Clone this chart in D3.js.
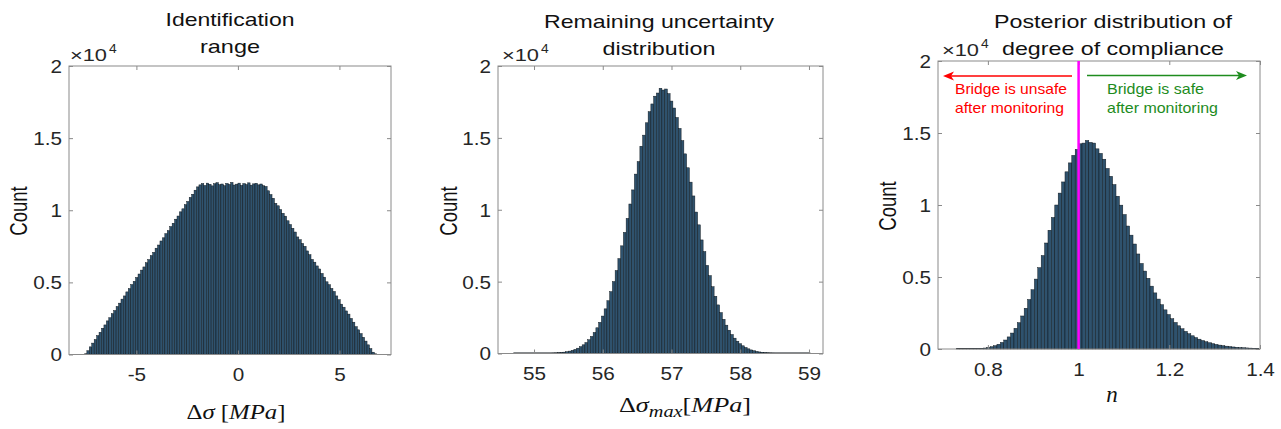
<!DOCTYPE html>
<html><head><meta charset="utf-8">
<script src="https://cdn.jsdelivr.net/npm/d3@7"></script>
<style>body{margin:0;background:#fff;} svg{display:block}</style>
</head><body>
<svg id="c" width="1281" height="429"></svg>
<script>
// ---------------- DATA ----------------
const p1BinStart = -7.56, p1BinWidth = 0.12;
const p1Counts = [30,260,530,790,1040,1310,1540,1820,2050,2330,2550,2830,3050,3330,3560,3840,4060,4340,4570,4850,5070,5340,5580,5850,6070,6360,6580,6860,7080,7370,7590,7870,8090,8380,8590,8870,9100,9380,9600,9890,10100,10390,10610,10890,11110,11390,11620,
11760,11850,11720,11880,11800,11690,11840,11910,11770,11820,11700,11860,11790,11930,11750,11810,11880,11720,11850,11780,11900,11740,11830,11870,11760,11820,11700,
11650,11350,11090,10830,10480,10310,10050,9790,9590,9270,9010,8750,8490,8150,7960,7700,7500,7180,6920,6590,6400,6140,5930,5620,5360,5040,4840,4580,4370,4060,3800,3490,3280,3020,2800,2500,2240,1930,1710,1450,1190,930,670,410,160,20];

const p2BinStart = 54.70, p2BinWidth = 0.04;
const p2Counts = [0,0,0,0,1,1,2,2,3,5,7,10,14,19,27,37,51,69,94,125,166,219,286,370,475,605,763,957,1189,1464,1789,2168,2605,3106,3671,4304,5005,5772,6602,7489,8425,9397,10400,11380,12480,13350,14420,15190,16050,16820,17360,17900,18120,18450,18330,18400,18080,17560,17077,16418,15657,14808,13888,12920,11921,10960,9840,8950,7900,7090,6130,5420,4646,3980,3381,2847,2379,1971,1620,1320,1067,856,681,536,419,325,250,191,144,108,81,59,44,32,23,16,12,8,6,4,3,2,1,1,1,0,0,0];

const p3BinStart = 0.73, p3BinWidth = 0.0075;
const p3Counts = [1,2,3,6,10,17,27,44,68,105,156,228,326,456,624,839,1107,1436,1829,2293,2829,3437,4114,4855,5650,6491,7361,8248,9133,10000,10827,11601,12304,12924,13448,13865,14250,14300,14480,14350,14300,13900,13585,13180,12540,11992,11420,10610,9990,9340,8540,7907,7290,6599,5940,5411,4910,4364,3896,3467,3074,2718,2394,2104,1844,1611,1405,1222,1060,918,793,683,588,505,434,371,318,271,231,197,168,142,121,103,87,74,62,53,44];

const yTicks = [0, 5000, 10000, 15000, 20000];
const yTickLabels = ["0", "0.5", "1", "1.5", "2"];
const p1XTicks = [-5, 0, 5];
const p1XTickLabels = ["-5", "0", "5"];
const p2XTicks = [55, 56, 57, 58, 59];
const p2XTickLabels = ["55", "56", "57", "58", "59"];
const p3XTicks = [0.8, 1, 1.2, 1.4];
const p3XTickLabels = ["0.8", "1", "1.2", "1.4"];
const complianceThreshold = 1;

const titles1 = ["Identification", "range"];
const titles2 = ["Remaining uncertainty", "distribution"];
const titles3 = ["Posterior distribution of", "degree of compliance"];
const unsafeText = ["Bridge is unsafe", "after monitoring"];
const safeText = ["Bridge is safe", "after monitoring"];

// ---------------- STYLE ----------------
const barFill = "#2f526d", barStroke = "#0b1218";
const axisColor = "#8a8a8a", textColor = "#262626";
const sans = "'Liberation Sans', Arial, sans-serif";
const serif = "'Liberation Serif', 'DejaVu Serif', serif";

const svg = d3.select("#c");

const panels = [
  {x0:69, x1:391, y0:66, y1:354.5, xDomain:[-8.32,7.54], start:p1BinStart, w:p1BinWidth, counts:p1Counts,
   xTicks:p1XTicks, xLabels:p1XTickLabels, pad:13.5,
   titles:titles1, tcx:230, ty:[26,53], tlen:[129,60],
   exp:{x:70,y:61}, ylab:{x:27,y:211}},
  {x0:498, x1:823, y0:66, y1:353.5, xDomain:[54.476,59.204], start:p2BinStart, w:p2BinWidth, counts:p2Counts,
   xTicks:p2XTicks, xLabels:p2XTickLabels, pad:13.5,
   titles:titles2, tcx:659, ty:[28,55], tlen:[230,113],
   exp:{x:502,y:61}, ylab:{x:457,y:211}},
  {x0:938, x1:1260, y0:61, y1:349, xDomain:[0.69,1.4], start:p3BinStart, w:p3BinWidth, counts:p3Counts,
   xTicks:p3XTicks, xLabels:p3XTickLabels, pad:14.5,
   titles:titles3, tcx:1113, ty:[28,55], tlen:[238,222],
   exp:{x:942,y:56}, ylab:{x:896,y:206}}
];

const scales = [];
panels.forEach((p, pi) => {
  const x = d3.scaleLinear().domain(p.xDomain).range([p.x0, p.x1]);
  const y = d3.scaleLinear().domain([0, 20000]).range([p.y1, p.y0]);
  scales.push({x, y});
  const g = svg.append("g");
  const bins = p.counts.map((c, i) => ({x0: p.start + i*p.w, x1: p.start + (i+1)*p.w, c}));

  // baseline under zero bins
  g.append("line")
    .attr("x1", x(bins[0].x0)).attr("x2", x(bins[bins.length-1].x1))
    .attr("y1", y(0) - 0.5).attr("y2", y(0) - 0.5)
    .attr("stroke", barStroke).attr("stroke-width", 1);

  g.selectAll("rect.bar").data(bins.filter(b => b.c > 0)).join("rect")
    .attr("class", "bar")
    .attr("x", b => x(b.x0)).attr("width", b => x(b.x1) - x(b.x0))
    .attr("y", b => y(b.c)).attr("height", b => y(0) - y(b.c))
    .attr("fill", barFill).attr("stroke", barStroke).attr("stroke-width", 0.45);

  // axes
  const styleAxis = (sel) => {
    sel.select(".domain").remove();
    sel.selectAll(".tick line").attr("stroke", axisColor);
    sel.selectAll(".tick text").attr("fill", textColor)
      .style("font-family", sans).style("font-size", "18px");
  };
  const bottom = g.append("g").attr("transform", `translate(0,${p.y1})`)
    .call(d3.axisBottom(x).tickValues(p.xTicks).tickFormat((d, i) => p.xLabels[i])
      .tickSizeInner(-4).tickSizeOuter(0).tickPadding(p.pad));
  styleAxis(bottom);
  bottom.selectAll(".tick text").attr("transform", "scale(1.15,1)");
  const top = g.append("g").attr("transform", `translate(0,${p.y0})`)
    .call(d3.axisTop(x).tickValues(p.xTicks).tickFormat("").tickSizeInner(-4).tickSizeOuter(0));
  styleAxis(top);
  const left = g.append("g").attr("transform", `translate(${p.x0},0)`)
    .call(d3.axisLeft(y).tickValues(yTicks).tickFormat((d, i) => yTickLabels[i])
      .tickSizeInner(-4).tickSizeOuter(0).tickPadding(6));
  styleAxis(left);
  left.selectAll(".tick text").attr("dy", "0.36em").attr("transform", "scale(1.15,1)");
  const right = g.append("g").attr("transform", `translate(${p.x1},0)`)
    .call(d3.axisRight(y).tickValues(yTicks).tickFormat("").tickSizeInner(-4).tickSizeOuter(0));
  styleAxis(right);

  g.append("rect").attr("x", p.x0).attr("y", p.y0)
    .attr("width", p.x1 - p.x0).attr("height", p.y1 - p.y0)
    .attr("fill", "none").attr("stroke", axisColor).attr("stroke-width", 1);

  // x10^4 exponent
  g.append("text").attr("x", p.exp.x).attr("y", p.exp.y)
    .attr("textLength", 37).attr("lengthAdjust", "spacingAndGlyphs")
    .style("font-family", sans).style("font-size", "17px").attr("fill", textColor)
    .text("\u00d710");
  g.append("text").attr("x", p.exp.x + 39).attr("y", p.exp.y - 8)
    .style("font-family", sans).style("font-size", "12px").attr("fill", textColor)
    .attr("transform", `translate(${p.exp.x + 39},0) scale(1.15,1) translate(${-(p.exp.x + 39)},0)`)
    .text("4");

  // titles
  p.titles.forEach((t, i) => {
    g.append("text").attr("x", p.tcx).attr("y", p.ty[i]).attr("text-anchor", "middle")
      .attr("textLength", p.tlen[i]).attr("lengthAdjust", "spacingAndGlyphs")
      .style("font-family", sans).style("font-size", "18.5px").attr("fill", "#111")
      .text(t);
  });

  // y label
  g.append("text").attr("transform", `translate(${p.ylab.x},${p.ylab.y}) rotate(-90) scale(1,1.25)`)
    .attr("text-anchor", "middle")
    .style("font-family", sans).style("font-size", "18.5px").attr("fill", "#111")
    .text("Count");
});

// x labels (math)
{
  const t1 = svg.append("text").attr("x", 236).attr("y", 419).attr("text-anchor", "middle")
    .attr("textLength", 99).attr("lengthAdjust", "spacingAndGlyphs")
    .style("font-family", serif).style("font-size", "22px").attr("fill", "#111");
  t1.append("tspan").text("\u0394");
  t1.append("tspan").style("font-style", "italic").text("\u03c3");
  t1.append("tspan").text(" [");
  t1.append("tspan").style("font-style", "italic").text("MPa");
  t1.append("tspan").text("]");

  const t2 = svg.append("text").attr("x", 685).attr("y", 412).attr("text-anchor", "middle")
    .attr("textLength", 132).attr("lengthAdjust", "spacingAndGlyphs")
    .style("font-family", serif).style("font-size", "22px").attr("fill", "#111");
  t2.append("tspan").text("\u0394");
  t2.append("tspan").style("font-style", "italic").text("\u03c3");
  t2.append("tspan").style("font-style", "italic").style("font-size", "17px").attr("dy", 5).text("max");
  t2.append("tspan").attr("dy", -5).text("[");
  t2.append("tspan").style("font-style", "italic").text("MPa");
  t2.append("tspan").text("]");

  svg.append("text").attr("x", 1112).attr("y", 402).attr("text-anchor", "middle")
    .style("font-family", serif).style("font-size", "23px").style("font-style", "italic")
    .attr("fill", "#111").text("n");
}

// panel 3 annotations
{
  const {x, y} = scales[2];
  const p = panels[2];
  svg.append("line").attr("x1", x(complianceThreshold)).attr("x2", x(complianceThreshold))
    .attr("y1", p.y0).attr("y2", p.y1).attr("stroke", "#ff00ff").attr("stroke-width", 2.5);

  const red = "#ff0000", green = "#1e8c1e";
  const ay = 76;
  // red arrow (pointing left)
  svg.append("line").attr("x1", 1072).attr("x2", 950).attr("y1", ay).attr("y2", ay)
    .attr("stroke", red).attr("stroke-width", 1.6);
  svg.append("path").attr("d", `M943,${ay} L954,${ay-4.5} L951,${ay} L954,${ay+4.5} Z`).attr("fill", red);
  // green arrow (pointing right)
  svg.append("line").attr("x1", 1087).attr("x2", 1240).attr("y1", ay - 0.5).attr("y2", ay - 0.5)
    .attr("stroke", green).attr("stroke-width", 1.6);
  svg.append("path").attr("d", `M1247,${ay-0.5} L1236,${ay-5} L1239,${ay-0.5} L1236,${ay+4} Z`).attr("fill", green);

  const addT = (tx, ty, str, len, col) => svg.append("text").attr("x", tx).attr("y", ty)
    .attr("textLength", len).attr("lengthAdjust", "spacingAndGlyphs")
    .style("font-family", sans).style("font-size", "14.5px").attr("fill", col).text(str);
  addT(955, 94, unsafeText[0], 112, red);
  addT(955, 113, unsafeText[1], 109, red);
  addT(1107, 94, safeText[0], 97, green);
  addT(1107, 113, safeText[1], 111, green);
}
</script>
</body></html>
